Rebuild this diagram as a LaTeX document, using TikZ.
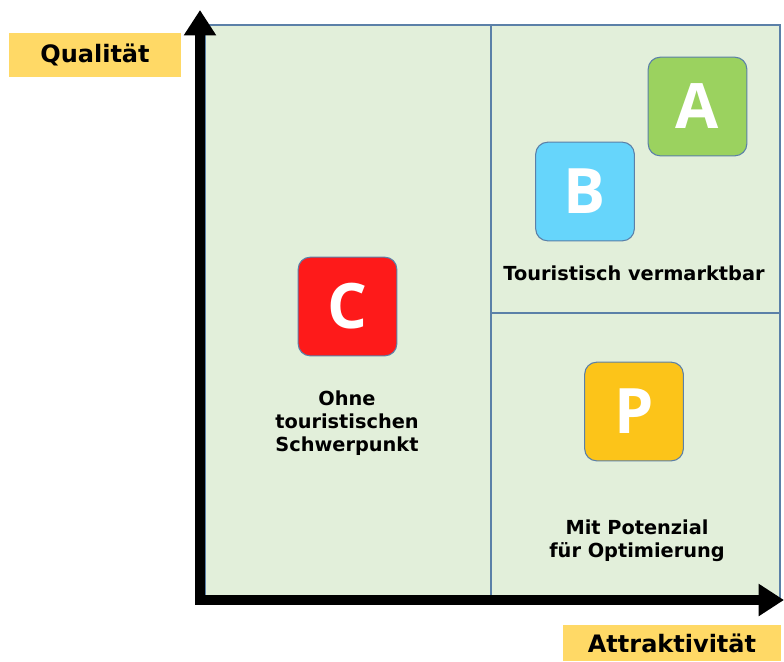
\documentclass[tikz,border=0pt]{standalone}
\usepackage{fontspec}
\setmainfont{DejaVu Sans}
\newfontfamily\letterfont{Open Sans}
\usetikzlibrary{arrows.meta,positioning}
\definecolor{field}{HTML}{E2EFDA}
\definecolor{frame}{HTML}{5B80A8}
\definecolor{labelyellow}{HTML}{FFD966}
\definecolor{agreen}{HTML}{9BD25F}
\definecolor{bblue}{HTML}{66D5FB}
\definecolor{cred}{HTML}{FE1A1A}
\definecolor{pyellow}{HTML}{FCC419}
\tikzset{x=0.75pt,y=-0.75pt,
         cat/.style={draw=frame,line width=0.8pt,rounded corners=9pt,minimum size=74pt,inner sep=0pt,
                     text=white,font=\letterfont\bfseries\fontsize{47}{47}\selectfont},
         axislabel/.style={fill=labelyellow,inner sep=0pt,font=\bfseries\fontsize{18}{20}\selectfont},
         note/.style={align=center,font=\bfseries\fontsize{14.5}{17.5}\selectfont},
         axis/.style={line width=7.5pt,line cap=rect,-{Triangle[length=19pt,width=23pt]}}}

\begin{document}
\begin{tikzpicture}
\useasboundingbox (0,0) rectangle (784,661);
\draw[frame,fill=field,line width=1pt] (205,25) rectangle (780,598);
\draw[frame,line width=1pt] (491,25) -- (491,598) (491,313) -- (780,313);

\node[cat,fill=agreen] (A) at (697.5,106.5) {A};
\node[cat,fill=bblue] (B) at (585,191.5) {B};
\node[cat,fill=cred] (C) at (347.5,306.5) {C};
\node[cat,fill=pyellow] (P) at (634,411.5) {P};

\node[note] (vermarktbar) at (634,273) {Touristisch vermarktbar};
\node[note] (schwerpunkt) at (347,423) {Ohne\\touristischen\\Schwerpunkt};
\node[note] (potenzial) at (637,541) {Mit Potenzial\\für Optimierung};

\coordinate (O) at (200,600);
\coordinate (ytop) at (200,10);
\coordinate (xend) at (784,600);
\draw[axis] (O) -- (ytop);
\draw[axis] (O) -- (xend);

\node[axislabel,minimum width=129pt,minimum height=33pt] (quali) at (95,55) {Qualität};
\node[axislabel,minimum width=163.5pt,minimum height=27pt] (attrak) at (672,643) {Attraktivität};
\end{tikzpicture}
\end{document}
